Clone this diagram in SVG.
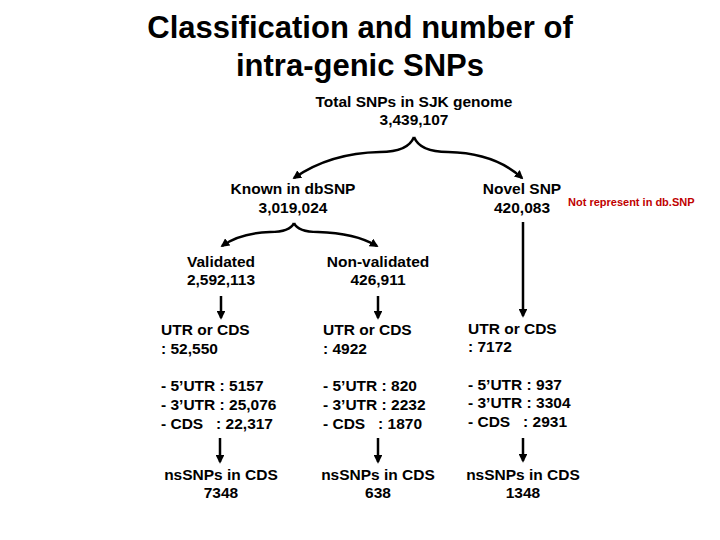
<svg xmlns="http://www.w3.org/2000/svg" width="720" height="540" viewBox="0 0 720 540">
<style>
text{font-family:"Liberation Sans",Arial,sans-serif;font-weight:bold;fill:#000}
.t{font-size:15.5px}
.c{text-anchor:middle}
.h{font-size:31px;font-weight:bold;text-anchor:middle}
.r{font-size:11px;fill:#c00000}
.ln{fill:none;stroke:#000;stroke-width:2.5}
</style>
<defs><marker id="a" viewBox="0 0 10 10" refX="8" refY="5" markerWidth="3.5" markerHeight="3.5" orient="auto"><path d="M0,0L10,5L0,10z" fill="#000"/></marker></defs>
<rect width="720" height="540" fill="#fff"/>
<text class="h" x="360" y="38">Classification and number of</text>
<text class="h" x="360" y="76">intra-genic SNPs</text>
<g id="total"><text class="t c" x="414" y="107">Total SNPs in SJK genome</text><text class="t c" x="414" y="125">3,439,107</text></g>
<g id="known"><text class="t c" x="293" y="194">Known in dbSNP</text><text class="t c" x="293" y="213">3,019,024</text></g>
<g id="novel"><text class="t c" x="522" y="194">Novel SNP</text><text class="t c" x="522" y="213">420,083</text><text class="r" x="568" y="206">Not represent in db.SNP</text></g>
<g id="validated"><text class="t c" x="221" y="267">Validated</text><text class="t c" x="221" y="285">2,592,113</text></g>
<g id="nonvalidated"><text class="t c" x="378" y="267">Non-validated</text><text class="t c" x="378" y="285">426,911</text></g>
<g id="utr1"><text class="t" x="161" y="335">UTR or CDS</text><text class="t" x="161" y="354">: 52,550</text>
<text class="t" x="161" y="391">- 5’UTR : 5157</text><text class="t" x="161" y="410">- 3’UTR : 25,076</text><text class="t" x="161" y="429" xml:space="preserve">- CDS   : 22,317</text></g>
<g id="utr2"><text class="t" x="323" y="335">UTR or CDS</text><text class="t" x="323" y="354">: 4922</text>
<text class="t" x="323" y="391">- 5’UTR : 820</text><text class="t" x="323" y="410">- 3’UTR : 2232</text><text class="t" x="323" y="429" xml:space="preserve">- CDS   : 1870</text></g>
<g id="utr3"><text class="t" x="468" y="334">UTR or CDS</text><text class="t" x="468" y="352">: 7172</text>
<text class="t" x="468" y="390">- 5’UTR : 937</text><text class="t" x="468" y="408">- 3’UTR : 3304</text><text class="t" x="468" y="427" xml:space="preserve">- CDS   : 2931</text></g>
<g id="ns1"><text class="t c" x="221" y="480">nsSNPs in CDS</text><text class="t c" x="221" y="498">7348</text></g>
<g id="ns2"><text class="t c" x="378" y="480">nsSNPs in CDS</text><text class="t c" x="378" y="498">638</text></g>
<g id="ns3"><text class="t c" x="523" y="480">nsSNPs in CDS</text><text class="t c" x="523" y="498">1348</text></g>
<g id="connectors">
<path class="ln" marker-end="url(#a)" d="M414,137 Q408,152 380,152 Q330,153 294,178"/>
<path class="ln" marker-end="url(#a)" d="M414,137 Q420,152 448,152 Q495,153 522,178"/>
<path class="ln" marker-end="url(#a)" d="M294,223 Q290,232 270,232 Q240,233 222,246"/>
<path class="ln" marker-end="url(#a)" d="M294,223 Q298,232 318,232 Q355,233 377,246"/>
<path class="ln" marker-end="url(#a)" d="M221,296V318"/>
<path class="ln" marker-end="url(#a)" d="M378,296V318"/>
<path class="ln" marker-end="url(#a)" d="M523,222V316"/>
<path class="ln" marker-end="url(#a)" d="M220,438V462"/>
<path class="ln" marker-end="url(#a)" d="M378,438V462"/>
<path class="ln" marker-end="url(#a)" d="M523,438V461"/>
</g>
</svg>
